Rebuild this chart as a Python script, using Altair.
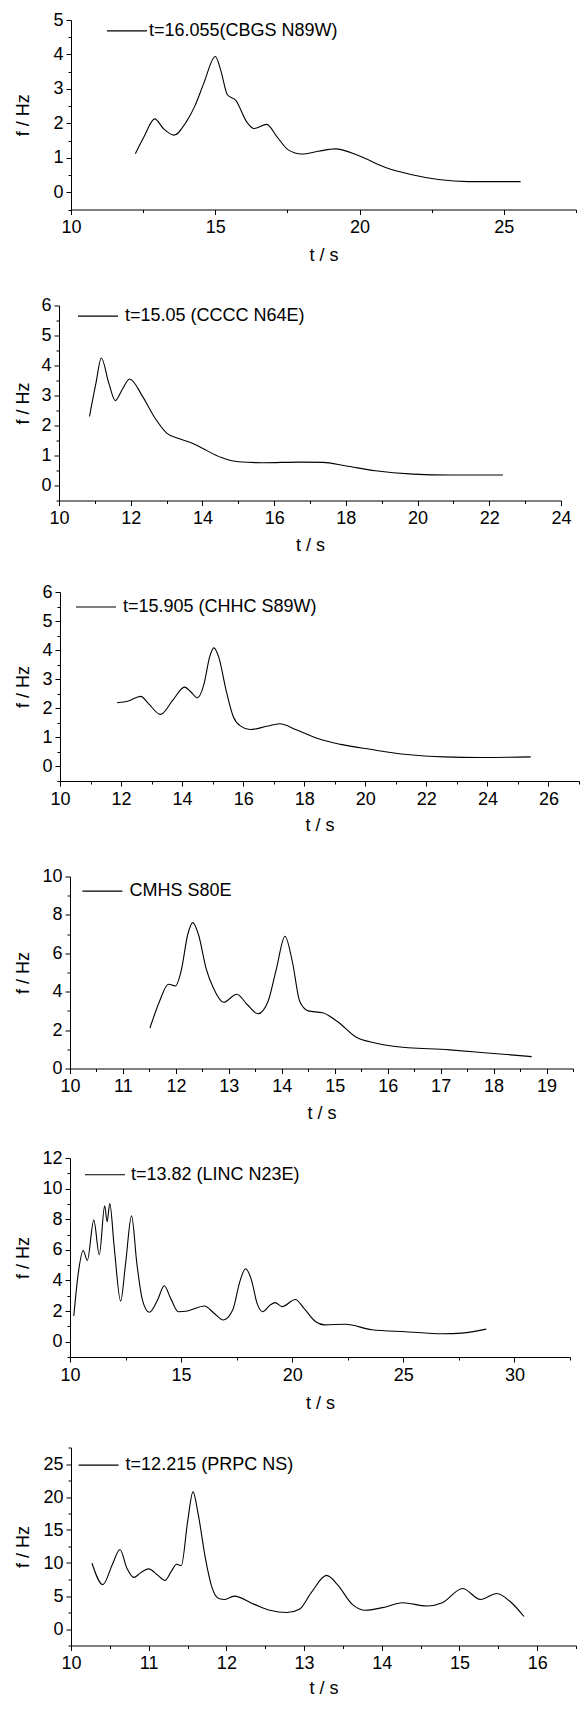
import altair as alt
import pandas as pd

FONT = "Liberation Sans"

# ---------------- data ----------------
labels = ["t=16.055(CBGS N89W)", "t=15.05 (CCCC N64E)", "t=15.905 (CHHC S89W)",
          "CMHS S80E", "t=13.82 (LINC N23E)", "t=12.215 (PRPC NS)"]

p1_t = [12.23, 12.53, 12.9, 13.2, 13.57, 14.0, 14.29, 14.6, 15.0, 15.19, 15.42, 15.71, 16.1,
        16.34, 16.78, 17.14, 17.53, 17.99, 18.57, 19.16, 20.0, 20.9, 21.82, 22.73, 23.77, 25.58]
p1_f = [1.12, 1.61, 2.13, 1.85, 1.66, 2.05, 2.5, 3.16, 3.94, 3.54, 2.83, 2.67, 2.03,
        1.85, 1.97, 1.61, 1.23, 1.11, 1.19, 1.26, 1.05, 0.72, 0.51, 0.37, 0.31, 0.31]

p2_t = [10.85, 11.03, 11.18, 11.39, 11.57, 11.76, 11.97, 12.33, 12.65, 13.01, 13.38, 13.7,
        14.0, 14.53, 15.0, 15.68, 16.73, 17.36, 17.98, 18.82, 19.87, 20.91, 22.38]
p2_f = [2.30, 3.41, 4.25, 3.41, 2.83, 3.19, 3.55, 2.97, 2.30, 1.74, 1.55, 1.42,
        1.24, 0.93, 0.79, 0.76, 0.78, 0.77, 0.66, 0.49, 0.38, 0.35, 0.35]

p3_t = [11.87, 12.24, 12.64, 12.9, 13.29, 13.69, 14.08, 14.29, 14.5, 14.72, 14.9, 15.04, 15.2,
        15.44, 15.68, 15.93, 16.23, 16.77, 17.2, 17.74, 18.47, 19.19, 20.16, 21.37, 22.58,
        23.79, 25.42]
p3_f = [2.19, 2.25, 2.41, 2.16, 1.79, 2.27, 2.73, 2.56, 2.36, 2.85, 3.76, 4.08, 3.76,
        2.62, 1.70, 1.38, 1.27, 1.38, 1.47, 1.26, 0.95, 0.76, 0.59, 0.41, 0.33,
        0.31, 0.33]

p4_t = [11.51, 11.69, 11.86, 11.99, 12.11, 12.22, 12.32, 12.43, 12.57, 12.71, 12.9, 13.15,
        13.35, 13.55, 13.74, 13.9, 14.06, 14.2, 14.34, 14.5, 14.77, 15.05, 15.4, 15.76,
        16.11, 17.17, 17.88, 18.72]
p4_f = [2.11, 3.49, 4.39, 4.30, 5.22, 6.94, 7.60, 6.94, 5.22, 4.18, 3.45, 3.87,
        3.32, 2.85, 3.49, 5.22, 6.89, 5.56, 3.49, 3.0, 2.90, 2.45, 1.64, 1.33,
        1.16, 0.97, 0.81, 0.62]

p5_t = [10.17, 10.39, 10.59, 10.78, 11.07, 11.32, 11.56, 11.67, 11.79, 11.99, 12.28, 12.5,
        12.77, 13.01, 13.26, 13.57, 13.94, 14.24, 14.53, 14.87, 15.29, 16.05, 16.48, 16.9,
        17.32, 17.66, 17.9, 18.17, 18.42, 18.67, 19.01, 19.23, 19.55, 20.14, 20.53, 21.04,
        21.46, 22.39, 23.58, 25.1, 26.79, 27.63, 28.73]
p5_f = [1.68, 4.66, 5.96, 5.31, 7.94, 5.68, 8.87, 7.84, 9.02, 6.17, 2.65, 5.09,
        8.22, 5.09, 2.72, 1.92, 2.72, 3.65, 2.83, 1.96, 2.01, 2.33, 1.86, 1.42,
        2.07, 4.01, 4.77, 4.01, 2.50, 1.96, 2.40, 2.55, 2.29, 2.76, 2.18, 1.32,
        1.10, 1.14, 0.78, 0.65, 0.52, 0.56, 0.82]

p6_t = [10.27, 10.41, 10.53, 10.63, 10.72, 10.81, 10.89, 11.0, 11.11, 11.21, 11.29, 11.36,
        11.42, 11.5, 11.57, 11.64, 11.73, 11.81, 11.91, 11.98, 12.1, 12.36, 12.56, 12.78,
        12.94, 13.09, 13.29, 13.43, 13.62, 13.79, 14.01, 14.27, 14.58, 14.78, 15.04, 15.27,
        15.48, 15.67, 15.83]
p6_f = [9.96, 6.72, 9.71, 12.05, 9.21, 7.82, 8.47, 9.11, 8.22, 7.37, 8.72, 9.81,
        9.61, 16.19, 20.77, 17.2, 10.71, 6.47, 4.58, 4.48, 4.98, 3.73, 2.84, 2.49,
        2.99, 5.48, 8.12, 6.72, 3.73, 2.84, 3.24, 3.98, 3.49, 3.98, 6.13, 4.48,
        5.38, 3.98, 1.89]

# axis domains and tick steps (major, minor)
x_domains = [[10, 27.5], [10, 24], [10, 27], [10, 19.5], [10, 32.5], [10, 16.5]]
x_steps = [(5, 2.5), (2, 1), (2, 1), (1, 0.5), (5, 2.5), (1, 0.5)]
y_domains = [[-0.5, 5], [-0.5, 6], [-0.5, 6], [0, 10], [-1, 12], [-2.5, 27.5]]
y_steps = [(1, 0.5), (1, 0.5), (1, 0.5), (2, 1), (2, 1), (5, 2.5)]

series_t = [p1_t, p2_t, p3_t, p4_t, p5_t, p6_t]
series_f = [p1_f, p2_f, p3_f, p4_f, p5_f, p6_f]

# ---------------- layout (pixels) ----------------
plot_left = [71, 59, 60, 70, 70, 71]          # page x of each y axis
base_left = min(plot_left)
widths = [505, 502, 519, 503, 500, 505]
heights = [189.5, 195, 189, 192, 199, 198]
x_title_pad = [10, 9, 8, 9, 10, 7]
leg_center = [10.9, 10.6, 15, 14.6, 16.7, 17.6]
leg_start = [35, 18, 15, 11.4, 14, 6.6]
leg_pad = [0, 3.1, 4.9, 9.6, 4.3, 0]
leg_offset = [1, 6, 6, 6, 5, 6]


def ticks(lo, hi, step):
    vals = []
    k = 0
    while lo + k * step <= hi + 1e-9:
        vals.append(round(lo + k * step, 6))
        k += 1
    return vals


def minor_test(major):
    return f"abs(datum.value/{major} - round(datum.value/{major})) > 0.001"


panels = []
for i in range(6):
    df = pd.DataFrame({"t": series_t[i], "f": series_f[i], "series": labels[i]})
    xmaj, xmin = x_steps[i]
    ymaj, ymin = y_steps[i]
    xvals = ticks(x_domains[i][0], x_domains[i][1], xmin)
    yvals = ticks(y_domains[i][0], y_domains[i][1], ymin)
    xt = minor_test(xmaj)
    yt = minor_test(ymaj)
    dx = plot_left[i] - base_left
    ext = plot_left[i] - 32
    chart = alt.Chart(df).mark_line(interpolate="monotone", strokeWidth=1.1).encode(
        x=alt.X("t:Q",
                scale=alt.Scale(domain=x_domains[i], nice=False, zero=False,
                                range=[dx, dx + widths[i]]),
                axis=alt.Axis(values=xvals, title="t / s",
                              labelExpr=f"{xt} ? '' : '' + datum.value",
                              tickSize={"condition": {"test": xt, "value": 3}, "value": 5},
                              labelPadding=4, minExtent=27, maxExtent=27,
                              titlePadding=x_title_pad[i], labelFlush=False,
                              labelOverlap=False, grid=False)),
        y=alt.Y("f:Q",
                scale=alt.Scale(domain=y_domains[i], nice=False, zero=False),
                axis=alt.Axis(values=yvals, title="f / Hz", offset=-dx,
                              labelExpr=f"{yt} ? '' : '' + datum.value",
                              tickSize={"condition": {"test": yt, "value": 3}, "value": 5},
                              labelPadding=3, minExtent=ext, maxExtent=ext,
                              titlePadding=0, labelFlush=False, labelOverlap=False,
                              grid=False)),
        color=alt.Color("series:N", scale=alt.Scale(range=["black"]),
                        legend=alt.Legend(orient="none", title=None,
                                          legendX=dx + leg_start[i] - leg_pad[i],
                                          legendY=leg_center[i] - 21 - leg_pad[i],
                                          padding=leg_pad[i],
                                          symbolType="stroke", symbolSize=1600,
                                          symbolStrokeWidth=1.1,
                                          labelFont=FONT, labelFontSize=18,
                                          labelColor="black", labelOffset=leg_offset[i],
                                          labelLimit=0)),
    ).properties(width=dx + widths[i], height=heights[i])
    panels.append(chart)

chart = alt.concat(*panels, columns=1, spacing=26.5, align="none").resolve_scale(
    color="independent"
).resolve_legend(
    color="independent"
).properties(
    padding={"left": 6, "top": 1, "right": 0, "bottom": 0},
    background="white",
).configure_view(stroke=None).configure_axis(
    domainColor="black", tickColor="black", labelColor="black", titleColor="black",
    labelFont=FONT, titleFont=FONT, labelFontSize=18, titleFontSize=18,
    titleFontWeight="normal", grid=False, domainWidth=1, tickWidth=1
)

chart.save("out.html", embed_options={"renderer": "svg", "actions": False})
